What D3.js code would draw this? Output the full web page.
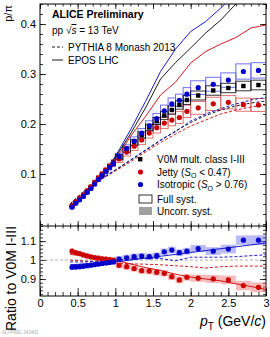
<!DOCTYPE html>
<html lang="en">
<head>
<meta charset="UTF-8">
<title>p/pi ratio</title>
<script src="https://cdn.jsdelivr.net/npm/d3@7"></script>
<style>
	html,body{margin:0;padding:0;background:#fff;}
	svg{display:block;font-family:"Liberation Sans",Arial,sans-serif;}
	.axis path{stroke:#000;stroke-width:1;}
	.axis line{stroke:#000;stroke-width:0.8;}
	.axis text{font-size:11px;fill:#000;font-family:"Liberation Sans",Arial,sans-serif;}
</style>
</head>
<body>
<svg id="svg" width="270" height="337"></svg>
<script>
// bin edges of the measurement (GeV/c)
var ptEdges = [0.40,0.45,0.50,0.55,0.60,0.65,0.70,0.75,0.80,0.85,0.90,0.95,1.00,
	1.10,1.20,1.30,1.40,1.50,1.60,1.70,1.80,1.90,2.00,2.20,2.40,2.60,2.80,3.00];

// p/pi, V0M mult. class I-III
var v0m = [0.035,0.043,0.050,0.057,0.065,0.073,0.082,0.091,0.099,0.107,0.115,0.122,
	0.134,0.149,0.163,0.178,0.193,0.206,0.217,0.228,0.238,0.248,0.257,0.267,0.272,0.276,0.278];
// p/pi, jetty
var jetty = [0.0366,0.0447,0.0517,0.0585,0.0664,0.0742,0.0831,0.0919,0.0997,0.1075,0.1153,0.1220,
	0.1302,0.1438,0.1557,0.1680,0.1818,0.1926,0.2018,0.2079,0.2130,0.2254,0.2323,0.2403,0.2434,0.2387,0.2380];
// p/pi, isotropic
var iso = [0.0337,0.0414,0.0483,0.0551,0.0631,0.0710,0.0800,0.0891,0.0972,0.1054,0.1135,0.1208,
	0.1347,0.1508,0.1659,0.1817,0.1965,0.2107,0.2265,0.2401,0.2473,0.2597,0.2727,0.2795,0.2878,0.3050,0.3072];

// ratios to V0M I-III
var ratioJetty = [1.047,1.040,1.034,1.027,1.022,1.017,1.013,1.010,1.007,1.005,1.003,1.000,
	0.972,0.965,0.955,0.944,0.942,0.935,0.930,0.912,0.895,0.909,0.904,0.900,0.895,0.865,0.856];
var ratioIso = [0.962,0.963,0.965,0.967,0.970,0.973,0.976,0.979,0.982,0.985,0.987,0.990,
	1.005,1.012,1.018,1.021,1.018,1.023,1.044,1.053,1.039,1.047,1.061,1.047,1.058,1.105,1.105];
// uncorrelated syst. on the ratios
var ratioUnc = [0.014,0.014,0.014,0.014,0.014,0.014,0.014,0.014,0.014,0.014,0.014,0.014,
	0.016,0.016,0.016,0.016,0.017,0.017,0.017,0.018,0.018,0.018,0.019,0.021,0.023,0.025,0.026];
// full syst. (relative) of each class
var sysV0m = 0.035, sysJetty = 0.055, sysIso = 0.05;

// models
var modelPt = [0.4,0.6,0.8,1.0,1.2,1.4,1.6,1.8,2.0,2.2,2.4,2.6,2.8,3.0];
var eposV0m = [0.032,0.058,0.092,0.133,0.180,0.232,0.290,0.323,0.352,0.382,0.408,0.440,0.470,0.500];
var eposIso = [0.031,0.057,0.092,0.135,0.188,0.245,0.305,0.350,0.385,0.405,0.432,0.460,0.490,0.520];
var eposJetty = [0.033,0.058,0.090,0.128,0.175,0.215,0.258,0.284,0.322,0.345,0.360,0.373,0.392,0.398];
var pyV0m = [0.040,0.068,0.089,0.108,0.127,0.147,0.167,0.186,0.203,0.217,0.228,0.236,0.242,0.246];
var pyIso = [0.040,0.067,0.089,0.108,0.128,0.148,0.168,0.185,0.206,0.220,0.231,0.240,0.248,0.253];
var pyJetty = [0.040,0.068,0.088,0.106,0.124,0.144,0.163,0.180,0.196,0.208,0.220,0.228,0.234,0.238];
var eposRatioIso = [0.975,0.980,0.985,0.990,1.000,1.010,1.020,1.030,1.040,1.050,1.060,1.070,1.080,1.090];
var eposRatioJetty = [1.030,1.020,1.010,1.000,0.980,0.960,0.945,0.925,0.910,0.900,0.890,0.875,0.860,0.845];
var pyRatioIso = [0.990,0.990,0.995,1.000,1.005,1.010,1.008,0.996,1.015,1.015,1.015,1.018,1.023,1.028];
var pyRatioJetty = [1.000,0.995,0.990,0.985,0.980,0.978,0.975,0.970,0.965,0.958,0.965,0.968,0.968,0.968];

var RED = "#cc0000", BLUE = "#0000cc";

window.onload = ()=>{
	var svg = d3.select("#svg");
	var L = 40, R = 266, T = 4, M = 226, B = 296;

	var x = d3.scaleLinear().domain([0,3]).range([L,R]);
	var yTop = d3.scaleLinear().domain([-0.004,0.44]).range([M,T]);
	var yLow = d3.scaleLinear().domain([0.81,1.18]).range([B,M]);

	var bins = ptEdges.slice(0,-1).map((lo,i)=>{
		return {lo:lo, hi:ptEdges[i+1], c:(lo+ptEdges[i+1])/2, i:i};
	});

	var defs = svg.append("defs");
	defs.append("clipPath").attr("id","clipTop").append("rect")
		.attr("x",L).attr("y",T).attr("width",R-L).attr("height",M-T);
	defs.append("clipPath").attr("id","clipLow").append("rect")
		.attr("x",L).attr("y",M).attr("width",R-L).attr("height",B-M);

	// ---------- axes ----------
	function ticks(a,b,s){
		var out = [];
		for(var v=a; v<=b+1e-9; v+=s) out.push(+v.toFixed(4));
		return out;
	}
	function frame(yScale, major, minor, fmt, majLen, minLen){
		svg.append("g").attr("class","axis").attr("transform","translate("+L+",0)")
			.call(d3.axisLeft(yScale).tickValues(minor).tickSizeInner(-minLen).tickSizeOuter(0).tickFormat(""));
		svg.append("g").attr("class","axis").attr("transform","translate("+L+",0)")
			.call(d3.axisLeft(yScale).tickValues(major).tickSizeInner(-majLen).tickSizeOuter(0).tickPadding(4).tickFormat(fmt));
		svg.append("g").attr("class","axis").attr("transform","translate("+R+",0)")
			.call(d3.axisRight(yScale).tickValues(minor).tickSizeInner(-minLen).tickSizeOuter(0).tickFormat(""));
		svg.append("g").attr("class","axis").attr("transform","translate("+R+",0)")
			.call(d3.axisRight(yScale).tickValues(major).tickSizeInner(-majLen).tickSizeOuter(0).tickFormat(""));
	}
	function xAxes(yPos, dir, majLen, minLen, labels){
		var ax = dir>0 ? d3.axisBottom : d3.axisTop;
		svg.append("g").attr("class","axis").attr("transform","translate(0,"+yPos+")")
			.call(ax(x).tickValues(ticks(0,3,0.1)).tickSizeInner(-minLen).tickSizeOuter(0).tickFormat(""));
		svg.append("g").attr("class","axis").attr("transform","translate(0,"+yPos+")")
			.call(ax(x).tickValues(ticks(0,3,0.5)).tickSizeInner(-majLen).tickSizeOuter(0).tickPadding(3)
				.tickFormat(labels ? d3.format("") : ""));
	}

	frame(yTop, [0.1,0.2,0.3,0.4], ticks(0,0.44,0.02), d3.format(".1f"), 6, 3);
	frame(yLow, [0.9,1.0,1.1], ticks(0.82,1.18,0.02), (d)=>d===1?"1":d3.format(".1f")(d), 6, 3);
	xAxes(T, -1, 5, 2.5, false);
	xAxes(M, 1, 5, 2.5, false);
	xAxes(M, -1, 5, 2.5, false);
	xAxes(B, 1, 8, 4, true);
	svg.selectAll(".axis path").remove();
	svg.append("rect").attr("x",L).attr("y",T).attr("width",R-L).attr("height",B-T)
		.attr("fill","none").attr("stroke","#000").attr("stroke-width",1);
	svg.append("line").attr("x1",L).attr("x2",R).attr("y1",M).attr("y2",M)
		.attr("stroke","#000").attr("stroke-width",1);

	// ---------- top panel ----------
	var gTop = svg.append("g").attr("clip-path","url(#clipTop)");

	function sysBoxes(g, vals, rel, color, width){
		g.selectAll(null).data(bins).enter().append("rect")
			.attr("x",(d)=>x(d.lo))
			.attr("width",(d)=>x(d.hi)-x(d.lo))
			.attr("y",(d)=>yTop(vals[d.i]*(1+rel)))
			.attr("height",(d)=>yTop(vals[d.i]*(1-rel))-yTop(vals[d.i]*(1+rel)))
			.attr("fill","none").attr("stroke",color).attr("stroke-width",width);
	}
	sysBoxes(gTop, jetty, sysJetty, "#e06666", 0.9);
	sysBoxes(gTop, iso, sysIso, "#6060f0", 0.9);
	sysBoxes(gTop, v0m, sysV0m, "#000", 0.8);

	var lineTop = d3.line().x((d)=>x(d[0])).y((d)=>yTop(d[1]));
	function model(g, line, vals, color, dashed){
		g.append("path").datum(modelPt.map((p,i)=>[p,vals[i]]))
			.attr("d",line).attr("fill","none").attr("stroke",color).attr("stroke-width",0.9)
			.attr("stroke-dasharray",dashed?"3,2":null);
	}
	model(gTop, lineTop, eposJetty, RED, false);
	model(gTop, lineTop, eposV0m, "#000", false);
	model(gTop, lineTop, eposIso, BLUE, false);
	model(gTop, lineTop, pyJetty, RED, true);
	model(gTop, lineTop, pyV0m, "#000", true);
	model(gTop, lineTop, pyIso, BLUE, true);

	gTop.selectAll(null).data(bins).enter().append("rect")
		.attr("x",(d)=>x(d.c)-2.2).attr("y",(d)=>yTop(v0m[d.i])-2.2)
		.attr("width",4.4).attr("height",4.4).attr("fill","#000");
	gTop.selectAll(null).data(bins).enter().append("circle")
		.attr("cx",(d)=>x(d.c)).attr("cy",(d)=>yTop(jetty[d.i])).attr("r",2.6).attr("fill",RED);
	gTop.selectAll(null).data(bins).enter().append("circle")
		.attr("cx",(d)=>x(d.c)).attr("cy",(d)=>yTop(iso[d.i])).attr("r",2.6).attr("fill",BLUE);

	// ---------- ratio panel ----------
	var gLow = svg.append("g").attr("clip-path","url(#clipLow)");
	gLow.append("line").attr("x1",L).attr("x2",R).attr("y1",yLow(1)).attr("y2",yLow(1))
		.attr("stroke","#999").attr("stroke-width",0.8).attr("stroke-dasharray","3,2");

	function uncBoxes(vals, color){
		gLow.selectAll(null).data(bins).enter().append("rect")
			.attr("x",(d)=>x(d.lo)).attr("width",(d)=>x(d.hi)-x(d.lo))
			.attr("y",(d)=>yLow(vals[d.i]+ratioUnc[d.i]))
			.attr("height",(d)=>yLow(vals[d.i]-ratioUnc[d.i])-yLow(vals[d.i]+ratioUnc[d.i]))
			.attr("fill",color).attr("opacity",0.45);
	}
	uncBoxes(ratioJetty, "#ee6666");
	uncBoxes(ratioIso, "#6666ee");

	var lineLow = d3.line().x((d)=>x(d[0])).y((d)=>yLow(d[1]));
	model(gLow, lineLow, pyRatioJetty, RED, true);
	model(gLow, lineLow, pyRatioIso, BLUE, true);
	model(gLow, lineLow, eposRatioJetty, RED, false);
	model(gLow, lineLow, eposRatioIso, BLUE, false);

	gLow.selectAll(null).data(bins).enter().append("circle")
		.attr("cx",(d)=>x(d.c)).attr("cy",(d)=>yLow(ratioJetty[d.i])).attr("r",2.6).attr("fill",RED);
	gLow.selectAll(null).data(bins).enter().append("circle")
		.attr("cx",(d)=>x(d.c)).attr("cy",(d)=>yLow(ratioIso[d.i])).attr("r",2.6).attr("fill",BLUE);

	// ---------- titles ----------
	svg.append("text").attr("transform","translate(12,5) rotate(-90)")
		.attr("text-anchor","end").attr("font-size","11px").text("p/π");
	svg.append("text").attr("transform","translate(16,331) rotate(-90)")
		.attr("font-size","14px").text("Ratio to V0M I-III");
	var xt = svg.append("text").attr("x",R).attr("y",326).attr("text-anchor","end").attr("font-size","14px");
	xt.append("tspan").attr("font-style","italic").text("p");
	xt.append("tspan").attr("font-size","10px").attr("dy",4).text("T");
	xt.append("tspan").attr("dy",-4).text(" (GeV/");
	xt.append("tspan").attr("font-style","italic").text("c");
	xt.append("tspan").text(")");
	svg.append("text").attr("x",2).attr("y",334).attr("font-size","4.5px").attr("fill","#aaa")
		.text("ALI-PREL-343401");

	// ---------- legends ----------
	var fs = "10px";
	svg.append("text").attr("x",52).attr("y",18).attr("font-size","10.5px").attr("font-weight","bold")
		.text("ALICE Preliminary");
	var ppt = svg.append("text").attr("x",52).attr("y",34).attr("font-size",fs);
	ppt.append("tspan").text("pp √");
	ppt.append("tspan").attr("font-style","italic").style("text-decoration","overline").text("s");
	ppt.append("tspan").text(" = 13 TeV");
	svg.append("line").attr("x1",52).attr("x2",63).attr("y1",47).attr("y2",47)
		.attr("stroke","#000").attr("stroke-width",0.9).attr("stroke-dasharray","3,2");
	svg.append("text").attr("x",68).attr("y",50.5).attr("font-size",fs).text("PYTHIA 8 Monash 2013");
	svg.append("line").attr("x1",52).attr("x2",63).attr("y1",60).attr("y2",60)
		.attr("stroke","#000").attr("stroke-width",0.9);
	svg.append("text").attr("x",68).attr("y",63.5).attr("font-size",fs).text("EPOS LHC");

	var lx = 157;
	svg.append("rect").attr("x",138).attr("y",157).attr("width",4.4).attr("height",4.4).attr("fill","#000");
	svg.append("text").attr("x",lx).attr("y",162.5).attr("font-size",fs).text("V0M mult. class I-III");
	svg.append("circle").attr("cx",140.5).attr("cy",172).attr("r",2.6).attr("fill",RED);
	var jt = svg.append("text").attr("x",lx).attr("y",175.5).attr("font-size",fs);
	jt.append("tspan").text("Jetty (");
	jt.append("tspan").attr("font-style","italic").text("S");
	jt.append("tspan").attr("font-size","7px").attr("dy",2.5).text("O");
	jt.append("tspan").attr("dy",-2.5).text(" < 0.47)");
	svg.append("circle").attr("cx",140.5).attr("cy",184.5).attr("r",2.6).attr("fill",BLUE);
	var it = svg.append("text").attr("x",lx).attr("y",188).attr("font-size",fs);
	it.append("tspan").text("Isotropic (");
	it.append("tspan").attr("font-style","italic").text("S");
	it.append("tspan").attr("font-size","7px").attr("dy",2.5).text("O");
	it.append("tspan").attr("dy",-2.5).text(" > 0.76)");
	svg.append("rect").attr("x",139).attr("y",195).attr("width",13).attr("height",8)
		.attr("fill","none").attr("stroke","#000").attr("stroke-width",0.8);
	svg.append("text").attr("x",lx).attr("y",202.5).attr("font-size",fs).text("Full syst.");
	svg.append("rect").attr("x",139).attr("y",207).attr("width",13).attr("height",8)
		.attr("fill","#a0a0a0");
	svg.append("text").attr("x",lx).attr("y",215).attr("font-size",fs).text("Uncorr. syst.");
}
</script>
</body>
</html>
